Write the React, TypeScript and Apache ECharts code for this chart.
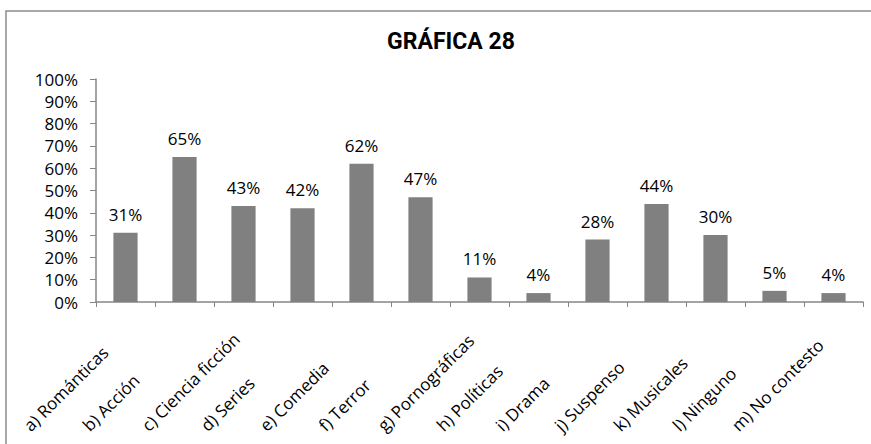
import React, { useEffect, useRef } from "react";
import * as echarts from "echarts";

const categories = [
  "a) Románticas",
  "b) Acción",
  "c) Ciencia ficción",
  "d) Series",
  "e) Comedia",
  "f) Terror",
  "g) Pornográficas",
  "h) Políticas",
  "i) Drama",
  "j) Suspenso",
  "k) Musicales",
  "l) Ninguno",
  "m) No contesto",
];
const values = [31, 65, 43, 42, 62, 47, 11, 4, 28, 44, 30, 5, 4];
const titleText = "GRÁFICA 28";

const FONT = "Open Sans";
const FS = 17;

export default function App() {
  const ref = useRef<HTMLDivElement>(null);
  useEffect(() => {
    if (!ref.current) return;
    const chart = echarts.init(ref.current, null, { renderer: "svg" });
    chart.setOption({
      animation: false,
      backgroundColor: "#ffffff",
      title: {
        text: titleText,
        left: 446,
        textAlign: "center",
        top: 25,
        textStyle: { fontFamily: "Roboto", fontWeight: "bold", fontSize: 23, color: "#000" },
      },
      graphic: [
        {
          type: "rect",
          shape: { x: 6, y: 11, width: 900, height: 500 },
          style: { fill: "none", stroke: "#8c8c8c", lineWidth: 1.5 },
          silent: true,
        },
      ],
      grid: { left: 96, right: 8, top: 79, bottom: 142, containLabel: false },
      xAxis: {
        type: "category",
        data: categories,
        boundaryGap: true,
        axisLine: { lineStyle: { color: "#868686", width: 1.5 } },
        axisTick: { show: true, alignWithLabel: false, length: 5, lineStyle: { color: "#868686" } },
        axisLabel: {
          interval: 0,
          rotate: 45,
          margin: 27,
          color: "#000",
          fontFamily: FONT,
          fontSize: FS,
          formatter: (v: string) => `{l|${v}}`,
          rich: {
            l: { width: 140, align: "left", fontFamily: FONT, fontSize: FS, color: "#000" },
          },
        },
      },
      yAxis: {
        type: "value",
        min: 0,
        max: 100,
        interval: 10,
        splitLine: { show: false },
        axisLine: { show: true, lineStyle: { color: "#868686", width: 1.5 } },
        axisTick: { show: true, length: 6, lineStyle: { color: "#868686" } },
        axisLabel: {
          formatter: "{value}%",
          margin: 18,
          color: "#000",
          fontFamily: FONT,
          fontSize: FS,
        },
      },
      series: [
        {
          type: "bar",
          data: values,
          barWidth: "41%",
          itemStyle: { color: "#808080" },
          label: {
            show: true,
            position: "top",
            distance: 10,
            formatter: "{c}%",
            color: "#000",
            fontFamily: FONT,
            fontSize: FS,
          },
        },
      ],
    });
    return () => chart.dispose();
  }, []);
  return (
    <div
      ref={ref}
      style={{ position: "fixed", left: 0, top: 0, width: 871, height: 444 }}
    />
  );
}
